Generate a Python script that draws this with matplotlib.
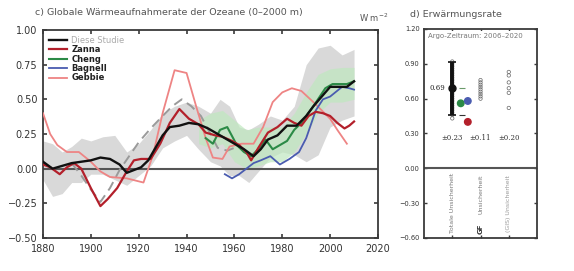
import matplotlib
matplotlib.use("Agg")
import matplotlib.pyplot as plt
import numpy as np

# --- Daten ---
study_yr = [1880, 1884, 1888, 1892, 1896, 1900, 1904, 1908, 1912, 1915, 1918, 1921, 1924, 1927,
            1930, 1933, 1937, 1941, 1945, 1949, 1953, 1957, 1960, 1964, 1968, 1971, 1974, 1978,
            1982, 1986, 1990, 1993, 1997, 2000, 2004, 2007, 2010]
study_val = [0.05, 0.00, 0.02, 0.04, 0.05, 0.06, 0.08, 0.07, 0.03, -0.03, -0.01, 0.01, 0.06, 0.15,
             0.24, 0.30, 0.31, 0.33, 0.32, 0.29, 0.25, 0.21, 0.18, 0.14, 0.09, 0.14, 0.21, 0.24,
             0.31, 0.31, 0.38, 0.45, 0.53, 0.59, 0.59, 0.59, 0.63]

band_yr = [1880, 1884, 1888, 1892, 1896, 1900, 1905, 1910, 1915, 1920, 1925, 1930, 1935, 1940,
           1945, 1950, 1954, 1958, 1962, 1966, 1970, 1975, 1980, 1985, 1990, 1995, 2000, 2005, 2010]
band_hi = [0.20, 0.18, 0.12, 0.16, 0.22, 0.20, 0.23, 0.24, 0.12, 0.18, 0.28, 0.40, 0.45, 0.48,
           0.45, 0.40, 0.50, 0.45, 0.30, 0.28, 0.32, 0.38, 0.35, 0.45, 0.75, 0.87, 0.89, 0.82, 0.86]
band_lo = [-0.08, -0.20, -0.18, -0.10, -0.10, -0.04, -0.04, -0.08, -0.12, -0.05, 0.02, 0.15, 0.20, 0.24,
           0.14, 0.05, 0.02, -0.05, -0.05, -0.10, -0.02, 0.08, 0.12, 0.10, 0.05, 0.10, 0.30, 0.35, 0.38]

cheng_band_yr = [1945, 1950, 1955, 1960, 1965, 1970, 1975, 1980, 1985, 1990, 1995, 2000, 2005, 2010]
cheng_band_hi = [0.35, 0.40, 0.42, 0.35, 0.28, 0.30, 0.30, 0.30, 0.40, 0.55, 0.68, 0.72, 0.73, 0.73]
cheng_band_lo = [0.18, 0.15, 0.18, 0.05, 0.00, 0.02, 0.05, 0.05, 0.12, 0.25, 0.40, 0.48, 0.48, 0.50]

zanna_yr = [1880, 1883, 1887, 1890, 1893, 1896, 1900, 1904, 1907, 1911, 1915, 1918, 1921, 1925,
            1929, 1933, 1937, 1941, 1945, 1948, 1952, 1955, 1959, 1962, 1965, 1967, 1970, 1974,
            1978, 1982, 1985, 1988, 1991, 1994, 1997, 2000, 2003, 2006, 2008, 2010]
zanna_val = [0.03, 0.01, -0.04, 0.01, 0.04, 0.00, -0.14, -0.27, -0.22, -0.14, -0.02, 0.06, 0.07, 0.07,
             0.18, 0.33, 0.43, 0.36, 0.32, 0.26, 0.24, 0.23, 0.20, 0.17, 0.12, 0.06, 0.15, 0.26,
             0.30, 0.36, 0.33, 0.31, 0.38, 0.41, 0.40, 0.38, 0.33, 0.29, 0.31, 0.34]

gebbie_yr = [1880, 1883, 1886, 1890, 1895, 1900, 1904, 1908, 1915, 1922, 1926, 1930, 1935, 1940,
             1944, 1948, 1951, 1955, 1958, 1963, 1968, 1972, 1976, 1980, 1984, 1988, 1993, 2000,
             2003, 2007]
gebbie_val = [0.40, 0.25, 0.17, 0.12, 0.12, 0.05, -0.02, -0.06, -0.07, -0.10, 0.10, 0.40, 0.71, 0.69,
              0.45, 0.22, 0.08, 0.07, 0.16, 0.18, 0.18, 0.30, 0.48, 0.55, 0.58, 0.56, 0.48, 0.36,
              0.28, 0.18]

dash_yr = [1892, 1896, 1900, 1904, 1908, 1912, 1916, 1920, 1925, 1930, 1934, 1938, 1942, 1946,
           1950, 1953, 1957, 1960]
dash_val = [0.04, -0.05, -0.15, -0.24, -0.14, -0.01, 0.09, 0.19, 0.29, 0.38, 0.45, 0.50, 0.45, 0.38,
            0.25, 0.15, 0.13, 0.15]

cheng_yr = [1948, 1951, 1954, 1957, 1961, 1964, 1967, 1970, 1973, 1976, 1979, 1982, 1985, 1988,
            1993, 1998, 2001, 2004, 2007, 2010]
cheng_val = [0.22, 0.18, 0.28, 0.30, 0.17, 0.12, 0.09, 0.14, 0.21, 0.14, 0.17, 0.20, 0.28, 0.33,
             0.45, 0.58, 0.61, 0.61, 0.61, 0.63]

bagnell_yr = [1956, 1959, 1962, 1965, 1968, 1971, 1975, 1979, 1983, 1987, 1990, 1994, 1997, 2000,
              2005, 2008, 2010]
bagnell_val = [-0.04, -0.07, -0.04, 0.00, 0.04, 0.06, 0.09, 0.03, 0.07, 0.12, 0.22, 0.42, 0.50, 0.52,
               0.59, 0.58, 0.57]

# Panel d
argo_mean = 0.69
argo_err = 0.23
col1_pts = [0.43, 0.46, 0.48, 0.50, 0.52, 0.54, 0.56, 0.58, 0.60, 0.62, 0.64, 0.66, 0.68, 0.70,
            0.72, 0.74, 0.76, 0.78, 0.80, 0.82, 0.84, 0.86, 0.88, 0.90, 0.92]
col2_pts = [0.60, 0.62, 0.64, 0.66, 0.68, 0.70, 0.72, 0.74, 0.76]
col3_pts = [0.52, 0.65, 0.69, 0.74, 0.80, 0.83]
obs_names = ["Cheng", "Bagnell", "Zanna"]
obs_vals = [0.56, 0.58, 0.40]
unc_labels = ["±0.23", "±0.11", "±0.20"]

c_black = "#111111"
c_zanna = "#b3202b"
c_cheng = "#2b8a46"
c_bagnell = "#4a5cb0"
c_gebbie = "#ee8484"
axis_col = "#3a3a3a"

fig = plt.figure(figsize=(5.74, 2.71), dpi=100)
ax = fig.add_axes([0.0749, 0.1218, 0.5836, 0.7675])
ax2 = fig.add_axes([0.7387, 0.1218, 0.1969, 0.7712])

# ---- panel c ----
ax.fill_between(band_yr, band_lo, band_hi, color="#d9d9d9", lw=0, zorder=1)
ax.fill_between(cheng_band_yr, cheng_band_lo, cheng_band_hi, color="#bfe8bf", alpha=0.7, lw=0, zorder=1.5)
ax.axhline(0, color="#555555", lw=1.5, zorder=2)

ax.plot(dash_yr, dash_val, color="#9a9a9a", lw=1.4, ls=(0, (5, 3)), zorder=3)
ax.plot(gebbie_yr, gebbie_val, color=c_gebbie, lw=1.3, zorder=3, label="Gebbie")
ax.plot(bagnell_yr, bagnell_val, color=c_bagnell, lw=1.3, zorder=4, label="Bagnell")
ax.plot(cheng_yr, cheng_val, color=c_cheng, lw=1.5, zorder=4, label="Cheng")
ax.plot(zanna_yr, zanna_val, color=c_zanna, lw=1.6, zorder=5, label="Zanna")
ax.plot(study_yr, study_val, color=c_black, lw=1.7, zorder=6, label="Diese Studie")

ax.set_xlim(1880, 2020)
ax.set_ylim(-0.5, 1.0)
ax.set_xticks(range(1880, 2021, 20))
ax.set_yticks([-0.5, -0.25, 0, 0.25, 0.5, 0.75, 1.0])
ax.set_yticklabels(["\u22120.50", "\u22120.25", "0.00", "0.25", "0.50", "0.75", "1.00"])
ax.tick_params(direction="in", top=True, right=True, length=3, width=1.2, color=axis_col,
               labelsize=7, labelcolor="#333333", pad=4)
for s in ax.spines.values():
    s.set_color(axis_col)
    s.set_linewidth(1.3)

h, l = ax.get_legend_handles_labels()
order = [4, 3, 2, 1, 0]
leg = ax.legend([h[i] for i in order], [l[i] for i in order], loc="upper left", frameon=False,
                handlelength=2.2, labelspacing=0.05, handletextpad=0.5,
                borderaxespad=0.3, prop={"size": 6, "weight": "bold"})
for i, t in enumerate(leg.get_texts()):
    t.set_color("#aaaaaa" if i == 0 else "#222222")
    if i == 0:
        t.set_fontweight("normal")

fig.text(0.061, 0.955, "c) Globale Wärmeaufnahmerate der Ozeane (0\u20132000 m)", fontsize=6.8,
         color="#555555", va="center")
fig.text(0.625, 0.935, "W m$^{-2}$", fontsize=6, color="#555555", va="center")
fig.text(0.715, 0.945, "d) Erwärmungsrate", fontsize=6.8, color="#555555", va="center")

# ---- panel d ----
ax2.set_xlim(0, 4)
ax2.set_ylim(-0.6, 1.2)
ax2.axhline(0, color="#555555", lw=1.5, zorder=2)
ax2.scatter([1] * len(col1_pts), col1_pts, s=6, facecolors="none", edgecolors="#666666", lw=0.5, zorder=3)
ax2.scatter([2] * len(col2_pts), col2_pts, s=6, facecolors="none", edgecolors="#666666", lw=0.5, zorder=3)
ax2.scatter([3] * len(col3_pts), col3_pts, s=6, facecolors="none", edgecolors="#666666", lw=0.5, zorder=3)
ax2.errorbar([1], [argo_mean], yerr=[argo_err], color="#111111", lw=2.8, capsize=3, capthick=1.2,
             fmt="o", ms=5, zorder=4)
ax2.hlines([argo_mean, argo_mean - argo_err], 1.25, 1.45, colors=["#6a9a6a", "#333333"], lw=0.8)
ax2.text(0.75, argo_mean, "0.69", fontsize=5, family="DejaVu Serif", ha="right", va="center",
         color="#222222")
ax2.scatter([1.3, 1.55, 1.55], obs_vals, s=22, c=[c_cheng, c_bagnell, c_zanna], zorder=5)
for x, t in zip([1, 2, 3], unc_labels):
    ax2.text(x, 0.26, t, fontsize=5, family="DejaVu Serif", ha="center", va="center", color="#333333")

ax2.text(1, -0.3, "Totale Unsicherheit", rotation=90, fontsize=4.5, ha="center", va="center",
         color="#777777")
ax2.text(2, -0.22, "Unsicherheit", rotation=90, fontsize=4.5, ha="center", va="center", color="#777777")
ax2.text(2, -0.52, "GF", rotation=90, fontsize=5, ha="center", va="center", color="#333333",
         fontweight="bold")
ax2.text(3, -0.3, "(GIS) Unsicherheit", rotation=90, fontsize=4.5, ha="center", va="center",
         color="#999999")
ax2.text(0.15, 1.14, "Argo-Zeitraum: 2006\u20132020", fontsize=5, color="#777777", va="center",
         zorder=10, bbox=dict(facecolor="white", edgecolor="none", pad=1.5))

ax2.set_xticks([1, 2, 3])
ax2.set_xticklabels([])
ax2.set_yticks([-0.6, -0.3, 0, 0.3, 0.6, 0.9, 1.2])
ax2.set_yticklabels(["\u22120.60", "\u22120.30", "0.00", "0.30", "0.60", "0.90", "1.20"])
ax2.tick_params(direction="in", top=True, right=True, length=2.5, width=1.0, color=axis_col,
                labelsize=4.8, labelcolor="#333333", pad=3)
for s in ax2.spines.values():
    s.set_color(axis_col)
    s.set_linewidth(1.3)

fig.savefig("out.png", dpi=100)
